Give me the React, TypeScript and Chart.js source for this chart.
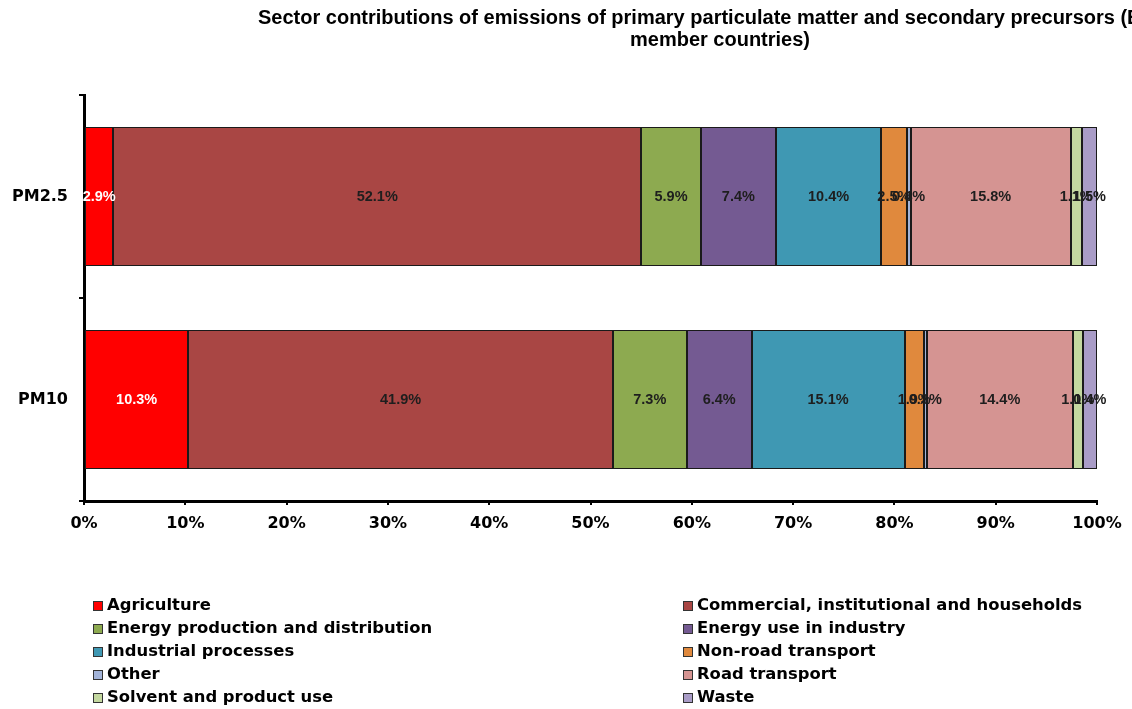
import React, { useEffect, useRef } from "react";
import { Chart, registerables } from "chart.js";

Chart.register(...registerables);

// Pollutant categories (one horizontal bar each)
const categories = ["PM2.5", "PM10"];

// Sector names and colours, in stacking order
const sectors = [
  "Agriculture",
  "Commercial, institutional and households",
  "Energy production and distribution",
  "Energy use in industry",
  "Industrial processes",
  "Non-road transport",
  "Other",
  "Road transport",
  "Solvent and product use",
  "Waste",
];

const sectorColors = [
  "#FF0000",
  "#A94644",
  "#8DAA50",
  "#745A92",
  "#3F98B3",
  "#E0893D",
  "#A3B4D9",
  "#D59492",
  "#C4D8A0",
  "#A99CC7",
];

// Share of emissions (%) per sector: [PM2.5, PM10]
const agriculture = [2.9, 10.3];
const commercial = [52.1, 41.9];
const energyProduction = [5.9, 7.3];
const energyIndustry = [7.4, 6.4];
const industrialProcesses = [10.4, 15.1];
const nonRoad = [2.5, 1.9];
const other = [0.4, 0.3];
const roadTransport = [15.8, 14.4];
const solvents = [1.1, 1.0];
const waste = [1.5, 1.4];

const sectorValues = [
  agriculture,
  commercial,
  energyProduction,
  energyIndustry,
  industrialProcesses,
  nonRoad,
  other,
  roadTransport,
  solvents,
  waste,
];

const xTicks = [0, 10, 20, 30, 40, 50, 60, 70, 80, 90, 100];

const titleLine1 =
  "Sector contributions of emissions of primary particulate matter and secondary precursors (EEA";
const titleLine2 = "member countries)";

const boldVerdanaLike = 'Verdana, "DejaVu Sans", sans-serif';
const arialLike = '"Liberation Sans", Arial, sans-serif';

// Segment outlines, value labels, title and the two-column legend
const decorations = {
  id: "decorations",
  afterDatasetsDraw(chart: any) {
    const ctx = chart.ctx;
    ctx.save();

    // crisp dark outline around every segment
    ctx.strokeStyle = "#1a1a1a";
    ctx.lineWidth = 1;
    chart.data.datasets.forEach((_ds: any, di: number) => {
      const meta = chart.getDatasetMeta(di);
      meta.data.forEach((bar: any) => {
        const x0 = Math.round(Math.min(bar.base, bar.x)) + 0.5;
        const x1 = Math.round(Math.max(bar.base, bar.x)) - 0.5;
        const y0 = Math.round(bar.y - bar.height / 2) + 0.5;
        const y1 = Math.round(bar.y + bar.height / 2) - 0.5;
        ctx.strokeRect(x0, y0, Math.max(x1 - x0, 0), y1 - y0);
      });
    });

    // value labels centred on each segment
    ctx.font = `bold 14.5px ${arialLike}`;
    ctx.textAlign = "center";
    ctx.textBaseline = "middle";
    chart.data.datasets.forEach((ds: any, di: number) => {
      const meta = chart.getDatasetMeta(di);
      meta.data.forEach((bar: any, i: number) => {
        const v = ds.data[i];
        const cx = (bar.x + bar.base) / 2;
        ctx.fillStyle = di === 0 ? "#ffffff" : "#1e1e1e";
        ctx.fillText(v.toFixed(1) + "%", cx, bar.y);
      });
    });

    // title
    ctx.fillStyle = "#000";
    ctx.font = `bold 20px ${arialLike}`;
    ctx.textAlign = "left";
    ctx.textBaseline = "middle";
    ctx.fillText(titleLine1, 258, 18);
    ctx.textAlign = "center";
    ctx.fillText(titleLine2, 720, 40);

    // legend
    ctx.font = `bold 16.4px ${boldVerdanaLike}`;
    ctx.textAlign = "left";
    ctx.textBaseline = "middle";
    chart.data.datasets.forEach((ds: any, di: number) => {
      const col = di % 2;
      const row = Math.floor(di / 2);
      const bx = col === 0 ? 93 : 683;
      const cy = 606 + row * 23;
      ctx.fillStyle = ds.backgroundColor;
      ctx.fillRect(bx, cy - 5, 10, 10);
      ctx.strokeStyle = "#333";
      ctx.lineWidth = 1;
      ctx.strokeRect(bx + 0.5, cy - 4.5, 9, 9);
      ctx.fillStyle = "#000";
      ctx.fillText(ds.label, bx + 14, cy);
    });

    ctx.restore();
  },
};

export default function App() {
  const canvasRef = useRef<HTMLCanvasElement | null>(null);

  useEffect(() => {
    document.body.style.margin = "0";
    const canvas = canvasRef.current;
    if (!canvas) return;

    const chart = new Chart(canvas, {
      type: "bar",
      data: {
        labels: categories,
        datasets: sectors.map((name, i) => ({
          label: name,
          data: sectorValues[i],
          backgroundColor: sectorColors[i],
          borderWidth: 0,
          barPercentage: 0.68,
          categoryPercentage: 1,
        })),
      },
      options: {
        indexAxis: "y",
        responsive: false,
        animation: false,
        layout: { padding: { top: 95, right: 35, bottom: 168, left: 0 } },
        plugins: {
          legend: { display: false },
          title: { display: false },
          tooltip: { enabled: false },
        },
        scales: {
          x: {
            stacked: true,
            min: 0,
            max: 100,
            afterBuildTicks: (scale: any) => {
              scale.ticks = xTicks.map((v) => ({ value: v }));
            },
            afterFit: (scale: any) => {
              scale.height = 40;
            },
            border: { display: true, color: "#000", width: 3 },
            grid: {
              display: true,
              drawOnChartArea: false,
              drawTicks: true,
              tickLength: 4,
              color: "#000",
              lineWidth: 2,
            },
            ticks: {
              color: "#000",
              font: { family: boldVerdanaLike, size: 16, weight: "bold" },
              padding: 9,
              maxRotation: 0,
              callback: (v: any) => `${v}%`,
            },
          },
          y: {
            stacked: true,
            afterFit: (scale: any) => {
              scale.width = 84;
            },
            border: { display: true, color: "#000", width: 3 },
            grid: {
              display: true,
              offset: true,
              drawOnChartArea: false,
              drawTicks: true,
              tickLength: 5,
              color: "#000",
              lineWidth: 2,
            },
            ticks: {
              color: "#000",
              font: { family: boldVerdanaLike, size: 16, weight: "bold" },
              padding: 11,
            },
          },
        },
      },
      plugins: [decorations],
    });

    return () => chart.destroy();
  }, []);

  return (
    <div style={{ width: 1132, height: 709, background: "#fff" }}>
      <canvas
        ref={canvasRef}
        width={1132}
        height={709}
        style={{ display: "block", width: 1132, height: 709 }}
      />
    </div>
  );
}
